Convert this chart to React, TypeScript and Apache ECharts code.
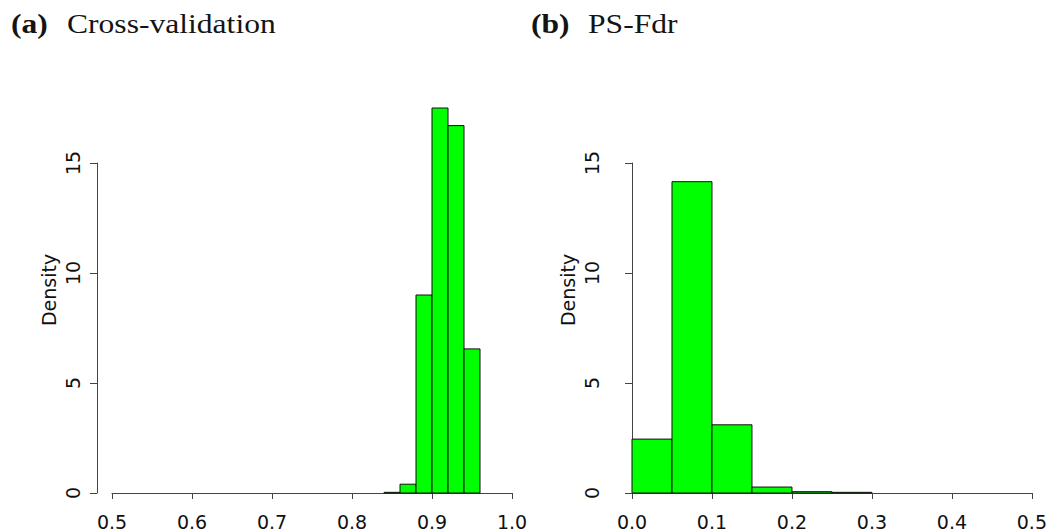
import React, { useEffect, useRef } from "react";
import * as echarts from "echarts";

const cvEdges = [0.84, 0.86, 0.88, 0.9, 0.92, 0.94, 0.96];
const cvDensity = [0.03, 0.4, 9.0, 17.5, 16.7, 6.55];
const psEdges = [0.0, 0.05, 0.1, 0.15, 0.2, 0.25, 0.3];
const psDensity = [2.45, 14.15, 3.1, 0.27, 0.06, 0.03];
const yTicks = { min: 0, max: 15, interval: 5 };
const cvRange = { min: 0.5, max: 1.0, interval: 0.1 };
const psRange = { min: 0.0, max: 0.5, interval: 0.1 };
const panelTitles = [
  { tag: "(a)", text: "Cross-validation" },
  { tag: "(b)", text: "PS-Fdr" },
];
const yName = "Density";

const toBins = (edges: number[], dens: number[]) =>
  dens.map((d, i) => [edges[i], edges[i + 1], d]);

const renderBin = (params: any, api: any) => {
  const p0 = api.coord([api.value(0), 0]);
  const p1 = api.coord([api.value(1), api.value(2)]);
  return {
    type: "rect",
    shape: { x: p0[0], y: p1[1], width: p1[0] - p0[0], height: p0[1] - p1[1] },
    style: { fill: "#00ff00", stroke: "#111", lineWidth: 1 },
  };
};

const axisFont = { fontFamily: "DejaVu Sans", fontSize: 19, color: "#111" };

const makeX = (idx: number, r: any) => ({
  type: "value",
  gridIndex: idx,
  min: r.min,
  max: r.max,
  interval: r.interval,
  offset: 16,
  axisLine: { show: true, lineStyle: { color: "#444", width: 1 } },
  axisTick: { show: true, length: 6, lineStyle: { color: "#444" } },
  axisLabel: { ...axisFont, margin: 3, formatter: (v: number) => v.toFixed(1) },
  splitLine: { show: false },
});

const makeY = (idx: number, off: number) => ({
  type: "value",
  gridIndex: idx,
  min: yTicks.min,
  max: yTicks.max,
  interval: yTicks.interval,
  offset: off,
  axisLine: { show: true, lineStyle: { color: "#444", width: 1 } },
  axisTick: { show: true, length: 7, lineStyle: { color: "#444" } },
  axisLabel: { ...axisFont, rotate: 90, margin: 15 },
  splitLine: { show: false },
});

export default function App() {
  const ref = useRef<HTMLDivElement>(null);
  useEffect(() => {
    document.body.style.margin = "0";
    if (!ref.current) return;
    const chart = echarts.init(ref.current, null, { renderer: "svg" });
    const titleStyle = (bold: boolean) => ({
      fontFamily: "Liberation Serif",
      fontSize: 27,
      fontWeight: bold ? "bold" : "normal",
      fill: "#141414",
      textVerticalAlign: "bottom",
    });
    const nameStyle = {
      text: yName, fontFamily: "DejaVu Sans", fontSize: 19, fill: "#111",
      textAlign: "center", textVerticalAlign: "middle",
    };
    chart.setOption({
      animation: false,
      backgroundColor: "#ffffff",
      grid: [
        { left: 112, right: 538, top: 163, bottom: 38 },
        { left: 632, right: 18, top: 163, bottom: 37 },
      ],
      xAxis: [makeX(0, cvRange), makeX(1, psRange)],
      yAxis: [makeY(0, 15), makeY(1, 16)],
      series: [
        {
          type: "custom",
          xAxisIndex: 0,
          yAxisIndex: 0,
          clip: false,
          renderItem: renderBin,
          encode: { x: [0, 1], y: 2 },
          data: toBins(cvEdges, cvDensity),
        },
        {
          type: "custom",
          xAxisIndex: 1,
          yAxisIndex: 1,
          clip: false,
          renderItem: renderBin,
          encode: { x: [0, 1], y: 2 },
          data: toBins(psEdges, psDensity),
        },
      ],
      graphic: [
        { type: "text", x: 11, y: 37, scaleX: 1.17, style: { text: panelTitles[0].tag, ...titleStyle(true) } },
        { type: "text", x: 67, y: 37, scaleX: 1.17, style: { text: panelTitles[0].text, ...titleStyle(false) } },
        { type: "text", x: 531, y: 37, scaleX: 1.17, style: { text: panelTitles[1].tag, ...titleStyle(true) } },
        { type: "text", x: 588, y: 37, scaleX: 1.17, style: { text: panelTitles[1].text, ...titleStyle(false) } },
        { type: "text", x: 49, y: 290, rotation: Math.PI / 2, style: { ...nameStyle } },
        { type: "text", x: 568, y: 290, rotation: Math.PI / 2, style: { ...nameStyle } },
      ],
    });
    return () => chart.dispose();
  }, []);
  return <div ref={ref} style={{ width: 1050, height: 531 }} />;
}
